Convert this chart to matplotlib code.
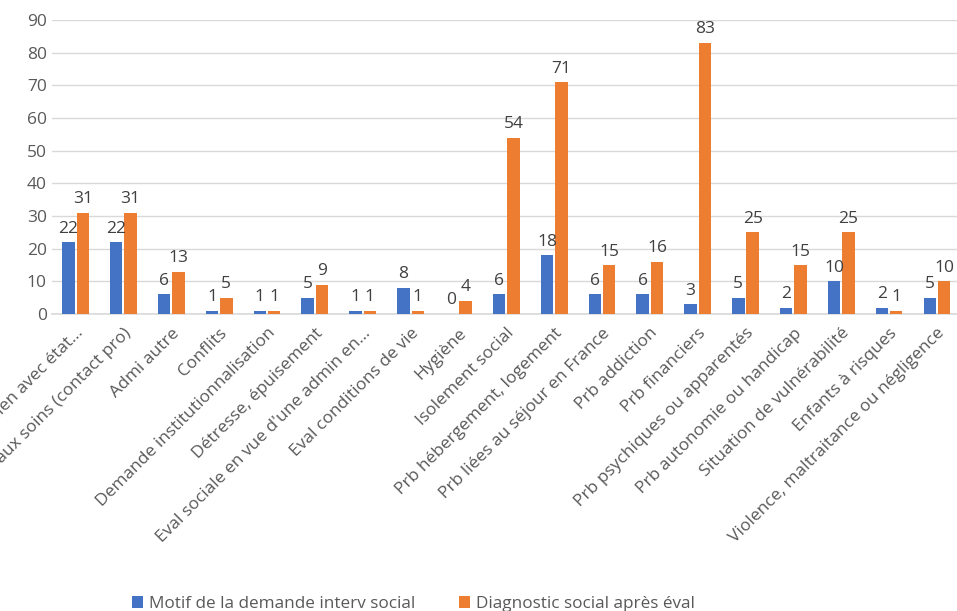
import matplotlib
matplotlib.use("Agg")
import matplotlib.pyplot as plt
import numpy as np

categories = [
    "Admi en lien avec état…",
    "Accès aux soins (contact pro)",
    "Admi autre",
    "Conflits",
    "Demande institutionnalisation",
    "Détresse, épuisement",
    "Eval sociale en vue d'une admin en…",
    "Eval conditions de vie",
    "Hygiène",
    "Isolement social",
    "Prb hébergement, logement",
    "Prb liées au séjour en France",
    "Prb addiction",
    "Prb financiers",
    "Prb psychiques ou apparentés",
    "Prb autonomie ou handicap",
    "Situation de vulnérabilité",
    "Enfants à risques",
    "Violence, maltraitance ou négligence",
]
motif = [22, 22, 6, 1, 1, 5, 1, 8, 0, 6, 18, 6, 6, 3, 5, 2, 10, 2, 5]
diagnostic = [31, 31, 13, 5, 1, 9, 1, 1, 4, 54, 71, 15, 16, 83, 25, 15, 25, 1, 10]
series_names = ["Motif de la demande interv social", "Diagnostic social après éval"]

blue = "#4472C4"
orange = "#ED7D31"
grey = "#595959"

plt.rcParams['font.family'] = ['Open Sans', 'DejaVu Sans']

fig = plt.figure(figsize=(9.57, 6.11), dpi=100)
ax = fig.add_axes([0.054, 0.486, 0.95, 0.481])

x = np.arange(len(categories))
w = 0.26
b1 = ax.bar(x - 0.15, motif, w, color=blue, label=series_names[0], zorder=3)
b2 = ax.bar(x + 0.15, diagnostic, w, color=orange, label=series_names[1], zorder=3)

for bars in (b1, b2):
    for r in bars:
        ax.annotate(str(int(r.get_height())), (r.get_x() + r.get_width() / 2, r.get_height()),
                    xytext=(0, 4), textcoords="offset points", ha="center", va="bottom",
                    fontsize=12.5, color="#404040")

ax.set_ylim(0, 90)
ax.set_yticks(range(0, 91, 10))
ax.set_xlim(-0.5, len(categories) - 0.5)
ax.yaxis.grid(True, color="#D9D9D9", linewidth=1, zorder=0)
for s in ["top", "right", "left"]:
    ax.spines[s].set_visible(False)
ax.spines["bottom"].set_color("#D9D9D9")
ax.spines["bottom"].set_linewidth(1.2)
ax.tick_params(axis="both", length=0, colors=grey, labelsize=12.5)
ax.tick_params(axis="x", pad=8)
ax.set_xticks(x)
ax.set_xticklabels(categories, rotation=45, ha="right", rotation_mode="anchor", fontsize=12.5, color=grey)

fig.legend(handles=[b1, b2], loc="center", bbox_to_anchor=(0.432, 0.012), ncol=2, frameon=False,
           fontsize=12.3, labelcolor=grey, handlelength=0.6, handleheight=0.7, columnspacing=2.6,
           handletextpad=0.35)

fig.savefig("out.png", dpi=100)
